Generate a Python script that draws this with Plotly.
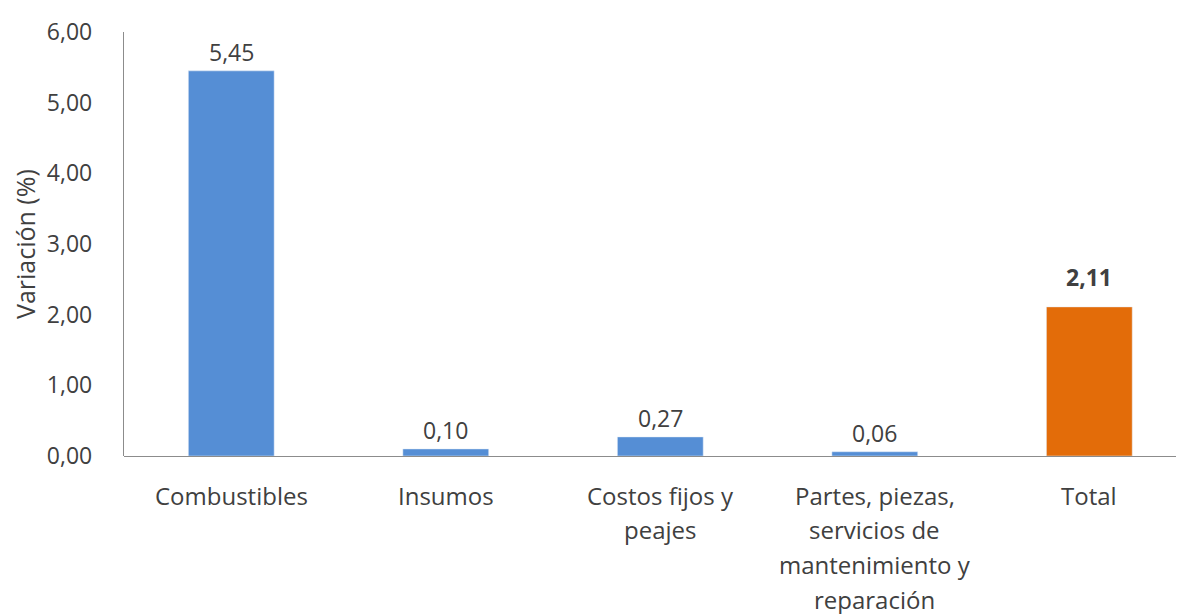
import plotly.graph_objects as go

categories = ["Combustibles", "Insumos", "Costos fijos y<br>peajes",
              "Partes, piezas,<br>servicios de<br>mantenimiento y<br>reparación", "Total"]
values = [5.45, 0.10, 0.27, 0.06, 2.11]
colors = ["#558ED5", "#558ED5", "#558ED5", "#558ED5", "#E36C09"]
y_ticks = [0, 1, 2, 3, 4, 5, 6]
y_title = "Variación (%)"

FONT = "Open Sans"
TXT = "#404040"
FS_CAT = 24
FS_TICK = 23
FS_VAL = 23
FS_TITLE = 25

L, T, PW, PH = 116, 17, 1061, 431

fig = go.Figure()
fig.add_trace(go.Bar(x=list(range(len(categories))), y=values, marker_color=colors,
                     width=0.4, hoverinfo="skip"))

annotations = []
for i, (c, v) in enumerate(zip(categories, values)):
    bold = c == "Total"
    label = f"{v:.2f}".replace(".", ",")
    annotations.append(dict(x=i, y=v, xref="x", yref="y", text=f"<b>{label}</b>" if bold else label,
                            showarrow=False, yanchor="bottom", yshift=12 if bold else 1,
                            font=dict(family=FONT, size=FS_VAL, color=TXT)))
    for j, line in enumerate(c.split("<br>")):
        annotations.append(dict(x=i, y=0, xref="x", yref="y", text=line, showarrow=False,
                                yanchor="middle", yshift=-(39 + j * 34.7),
                                font=dict(family=FONT, size=FS_CAT, color=TXT)))
annotations.append(dict(x=(24 - 123) / PW, y=0.5, xref="paper", yref="paper", text=y_title,
                        textangle=-90, showarrow=False, xanchor="center", yanchor="middle",
                        font=dict(family=FONT, size=FS_TITLE, color=TXT)))

fig.update_layout(
    width=1184, height=614,
    margin=dict(l=L, r=1184 - L - PW, t=T, b=614 - T - PH),
    paper_bgcolor="white", plot_bgcolor="white",
    separators=",.",
    showlegend=False,
    annotations=annotations,
    xaxis=dict(range=[-0.5, 4.446], showticklabels=False, showgrid=False, zeroline=False,
               showline=False, fixedrange=True),
    yaxis=dict(range=[0, 6], tickvals=y_ticks, tickformat=".2f", showgrid=False, zeroline=True,
               zerolinecolor="#8C8C8C", zerolinewidth=1.3,
               showline=True, linecolor="#8C8C8C", linewidth=1.3,
               ticks="", ticklabelstandoff=26,
               tickfont=dict(family=FONT, size=FS_TICK, color=TXT)),
)

fig.write_html("out.html")
